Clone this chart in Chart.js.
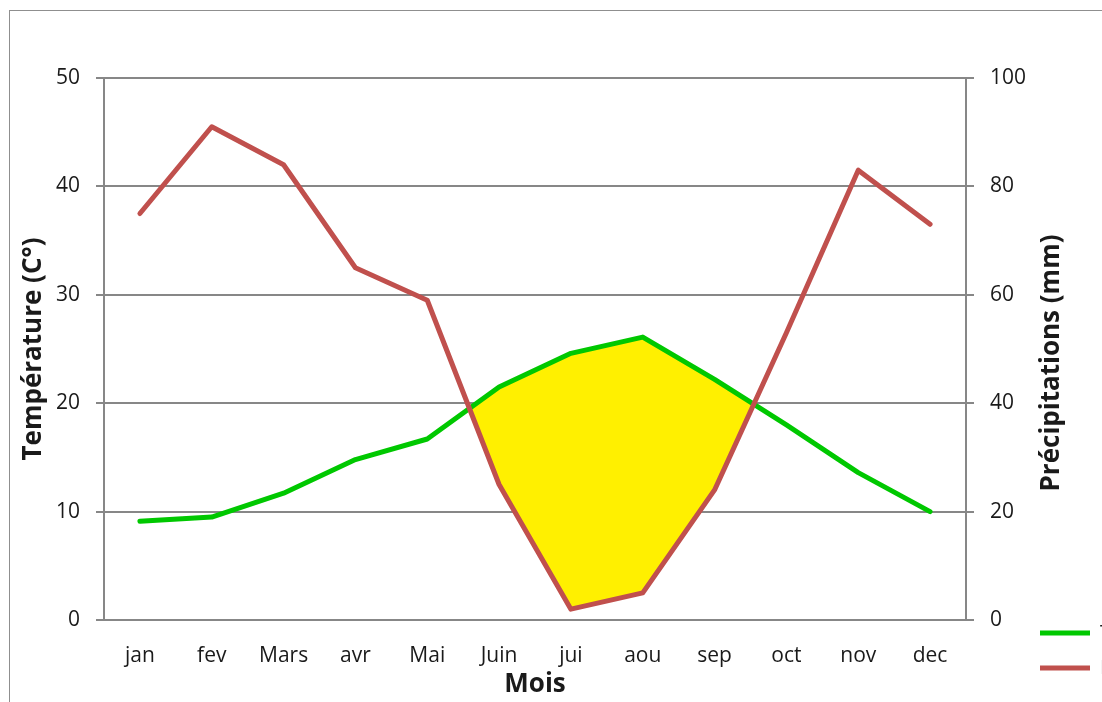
<!DOCTYPE html>
<html>
<head>
<meta charset="utf-8">
<script src="https://cdn.jsdelivr.net/npm/chart.js"></script>
<style>
  body { margin: 0; background: #fff; overflow: hidden; }
  #frame { position: absolute; left: 9px; top: 10px; width: 1400px; height: 900px; border: 1px solid #8f8f8f; }
  #wrap { position: absolute; left: 0; top: 0; width: 1102px; height: 702px; }
</style>
</head>
<body>
<div id="frame"></div>
<div id="wrap"><canvas id="climate-chart"></canvas></div>
<script>
const months = ["jan", "fev", "Mars", "avr", "Mai", "Juin", "jui", "aou", "sep", "oct", "nov", "dec"];
const temperature = [9.1, 9.5, 11.7, 14.8, 16.7, 21.5, 24.6, 26.1, 22.2, 18.0, 13.6, 10.0];
const precipitation = [75, 91, 84, 65, 59, 25, 2, 5, 24, 53, 83, 73];
const tempTicks = [0, 10, 20, 30, 40, 50];
const rainTicks = [0, 20, 40, 60, 80, 100];

const gridColor = "#878787";
const textColor = "#1a1a1a";
const tickFont = { size: 21, family: "Open Sans" };
const titleFont = { size: 26, family: "Open Sans", weight: "bold" };

// legend sits under the right axis title, like excel does it
const legendMover = {
  id: "legendMover",
  afterLayout(chart) {
    const lg = chart.legend;
    const area = chart.chartArea;
    lg.left = area.right + 59;
    lg.right = lg.left + lg.width;
    lg.top = area.bottom - 12;
    lg.bottom = lg.top + lg.height;
  },
};

// right title reads bottom to top
const rightTitle = {
  id: "rightTitle",
  afterDraw(chart) {
    const ctx = chart.ctx;
    const s = chart.scales.y1;
    const area = chart.chartArea;
    ctx.save();
    ctx.translate(s.left + 86, (area.top + area.bottom) / 2 + 14);
    ctx.rotate(-Math.PI / 2);
    ctx.font = "bold 26px 'Open Sans'";
    ctx.fillStyle = textColor;
    ctx.textAlign = "center";
    ctx.textBaseline = "middle";
    ctx.fillText("Précipitations (mm)", 0, 0);
    ctx.restore();
  },
};

const ctx = document.getElementById("climate-chart").getContext("2d");

new Chart(ctx, {
  type: "line",
  data: {
    labels: months,
    datasets: [
      {
        label: "Température",
        yAxisID: "y",
        data: temperature,
        borderColor: "#00c800",
        backgroundColor: "#00c800",
        borderWidth: 5,
        borderCapStyle: "round",
        borderJoinStyle: "round",
        pointRadius: 0,
        tension: 0,
        order: 1,
        fill: { target: 1, above: "#fff000", below: "rgba(0,0,0,0)" },
      },
      {
        label: "Précipitations",
        yAxisID: "y1",
        data: precipitation,
        borderColor: "#c0504d",
        backgroundColor: "#c0504d",
        borderWidth: 5,
        borderCapStyle: "round",
        borderJoinStyle: "round",
        pointRadius: 0,
        tension: 0,
        order: 0,
        fill: false,
      },
    ],
  },
  options: {
    responsive: true,
    maintainAspectRatio: false,
    animation: false,
    layout: { padding: { top: 78, left: 0, right: 0, bottom: 0 } },
    plugins: {
      tooltip: { enabled: false },
      legend: {
        position: "chartArea",
        align: "start",
        labels: {
          usePointStyle: true,
          pointStyle: "line",
          pointStyleWidth: 50,
          padding: 15,
          color: textColor,
          font: { size: 20, family: "Open Sans" },
          sort: (a, b) => a.datasetIndex - b.datasetIndex,
        },
      },
    },
    scales: {
      x: {
        offset: true,
        grid: { display: false, drawTicks: false },
        border: { display: true, color: gridColor, width: 2 },
        ticks: { color: textColor, font: tickFont, padding: 23, maxRotation: 0, autoSkip: false },
        title: { display: true, text: "Mois", color: textColor, font: titleFont, padding: { top: 0, bottom: 2 } },
        afterFit: (s) => { s.height = 82; },
      },
      y: {
        position: "left",
        min: 0,
        max: 50,
        afterBuildTicks: (s) => { s.ticks = tempTicks.map((v) => ({ value: v })); },
        grid: { color: gridColor, lineWidth: 2, drawTicks: true, tickLength: 8 },
        border: { display: true, color: gridColor, width: 2 },
        ticks: { color: textColor, font: tickFont, padding: 16 },
        title: { display: true, text: "Température (C°)", color: textColor, font: titleFont, padding: { top: 18, bottom: 0 } },
        afterFit: (s) => { s.width = 104; },
      },
      y1: {
        position: "right",
        min: 0,
        max: 100,
        afterBuildTicks: (s) => { s.ticks = rainTicks.map((v) => ({ value: v })); },
        grid: { color: gridColor, lineWidth: 2, drawOnChartArea: false, drawTicks: true, tickLength: 8 },
        border: { display: true, color: gridColor, width: 2 },
        ticks: { color: textColor, font: tickFont, padding: 16 },
        afterFit: (s) => { s.width = 136; },
      },
    },
  },
  plugins: [legendMover, rightTitle],
});
</script>
</body>
</html>
